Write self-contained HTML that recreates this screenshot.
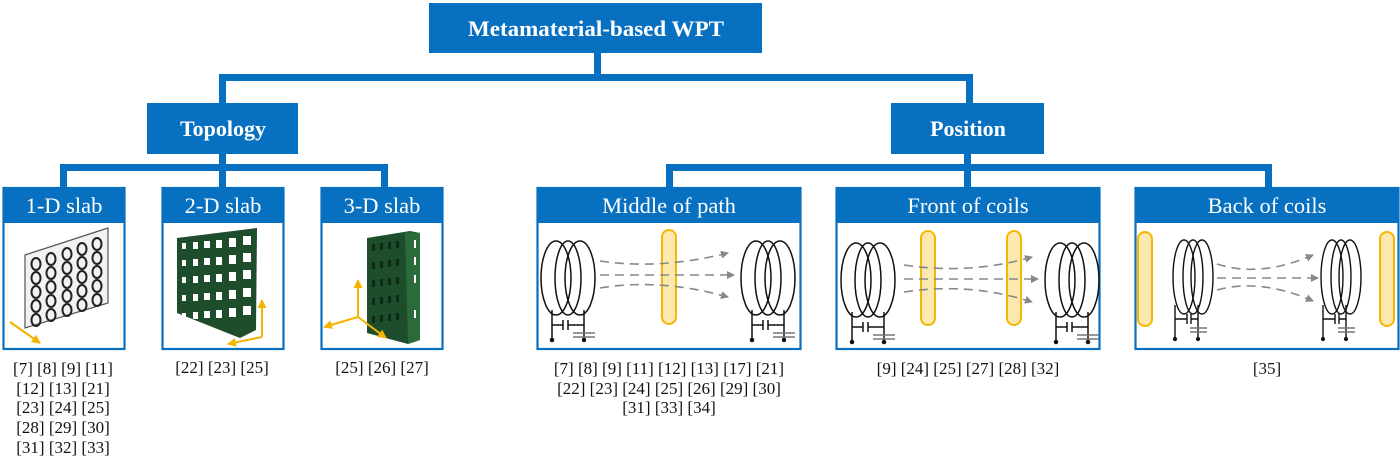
<!DOCTYPE html>
<html><head><meta charset="utf-8"><style>
html,body{margin:0;padding:0;background:#fff;width:1400px;height:460px;overflow:hidden}
svg{display:block}
.ref{font-family:"Liberation Serif",serif;font-size:17px;fill:#111;text-anchor:middle}
.hd{font-family:"Liberation Serif",serif;font-size:22.5px;fill:#fff;text-anchor:middle}
.bd{font-family:"Liberation Serif",serif;font-size:22px;font-weight:bold;fill:#fff;text-anchor:middle}
</style></head><body>
<svg width="1400" height="460" viewBox="0 0 1400 460" xmlns="http://www.w3.org/2000/svg">
<defs>
<g id="coil" fill="none" stroke="#111" stroke-width="1.5">
  <ellipse cx="-12" cy="0" rx="15" ry="37"/>
  <ellipse cx="0" cy="0" rx="13" ry="37"/>
  <ellipse cx="12" cy="0" rx="15" ry="37"/>
  <path d="M-16 32 V62 M16 32 V62 M-16 47 H-5 M-5 42 V52 M0 42 V52 M0 47 H16"/>
  <path d="M5 55 H27 M5 59 H27" stroke="#777"/>
  <circle cx="-16" cy="62" r="1.5" fill="#111"/><circle cx="16" cy="62" r="1.5" fill="#111"/>
</g>
<g id="coilS" fill="none" stroke="#111" stroke-width="1.4">
  <ellipse cx="-9" cy="0" rx="11" ry="37"/>
  <ellipse cx="0" cy="0" rx="10" ry="37"/>
  <ellipse cx="9" cy="0" rx="11" ry="37"/>
  <path d="M-18 28 V62 M5 28 V62 M-18 42 H-6 M-6 37 V47 M-2 37 V47 M-2 42 H5"/>
  <path d="M-3 51 H14 M-3 55 H14" stroke="#777"/>
  <circle cx="-18" cy="62" r="1.4" fill="#111"/><circle cx="5" cy="62" r="1.4" fill="#111"/>
</g>
<g id="rod"><rect x="-7" y="0" width="14" height="94" rx="7" fill="#fde9b0" stroke="#f5b800" stroke-width="2"/></g>
<marker id="ah" markerWidth="8" markerHeight="8" refX="7" refY="4" orient="auto" markerUnits="userSpaceOnUse"><path d="M0 0 L8 4 L0 8 Z" fill="#888"/></marker>
<marker id="ay" markerWidth="9" markerHeight="9" refX="8" refY="4.5" orient="auto" markerUnits="userSpaceOnUse"><path d="M0 0 L9 4.5 L0 9 Z" fill="#f5b400"/></marker>
</defs>

<g fill="#0870c0">
<rect x="594" y="52" width="7" height="26"/>
<rect x="219" y="74" width="754" height="7" rx="2"/>
<rect x="219" y="74" width="7" height="30"/>
<rect x="966" y="74" width="7" height="30"/>
<rect x="219" y="153" width="7" height="36"/>
<rect x="60" y="164" width="328" height="7" rx="2"/>
<rect x="60" y="164" width="7" height="25"/>
<rect x="381" y="164" width="7" height="25"/>
<rect x="964" y="153" width="7" height="36"/>
<rect x="666" y="164" width="606" height="7" rx="2"/>
<rect x="666" y="164" width="7" height="25"/>
<rect x="1265" y="164" width="7" height="25"/>
</g>

<rect x="429" y="3" width="333" height="50" fill="#0870c0"/>
<text class="bd" x="596" y="36" textLength="256" lengthAdjust="spacingAndGlyphs">Metamaterial-based WPT</text>
<rect x="147" y="103" width="151" height="51" fill="#0870c0"/>
<text class="bd" x="223" y="136">Topology</text>
<rect x="891" y="103" width="153" height="51" fill="#0870c0"/>
<text class="bd" x="968" y="136">Position</text>

<g fill="#fff" stroke="#0870c0" stroke-width="2.2">
<rect x="3.5" y="188" width="121" height="161"/>
<rect x="162.5" y="188" width="121" height="161"/>
<rect x="321.5" y="188" width="121" height="161"/>
<rect x="537.5" y="188" width="263" height="161"/>
<rect x="836.5" y="188" width="263" height="161"/>
<rect x="1135.5" y="188" width="263" height="161"/>
</g>
<g fill="#0870c0">
<rect x="2.5" y="187" width="123" height="36"/>
<rect x="161.5" y="187" width="123" height="36"/>
<rect x="320.5" y="187" width="123" height="36"/>
<rect x="536.5" y="187" width="265" height="36"/>
<rect x="835.5" y="187" width="265" height="36"/>
<rect x="1134.5" y="187" width="265" height="36"/>
</g>
<text class="hd" x="64" y="213">1-D slab</text>
<text class="hd" x="223" y="213">2-D slab</text>
<text class="hd" x="382" y="213">3-D slab</text>
<text class="hd" x="669" y="213">Middle of path</text>
<text class="hd" x="968" y="213">Front of coils</text>
<text class="hd" x="1267" y="213">Back of coils</text>

<polygon points="25,255 108,228 108,303 25,328" fill="#f2f2f2" stroke="#555" stroke-width="1.2"/>
<g fill="none" stroke="#222" stroke-width="2">
<g id="row1">
<ellipse cx="36" cy="264" rx="4.5" ry="6"/><ellipse cx="51" cy="259" rx="4.5" ry="6"/><ellipse cx="67" cy="254" rx="4.5" ry="6"/><ellipse cx="82" cy="249" rx="4.5" ry="6"/><ellipse cx="97" cy="244" rx="4.5" ry="6"/>
</g>
<use href="#row1" y="14"/><use href="#row1" y="28"/><use href="#row1" y="42"/><use href="#row1" y="56"/>
</g>
<line x1="10" y1="322" x2="40" y2="343" stroke="#f5b400" stroke-width="2" marker-end="url(#ay)"/>

<polygon points="177,238 257,228 256,330 240,338 177,313" fill="#1d4d2a"/>
<g fill="#fff">
<g id="wr">
<rect x="182" y="243" width="4" height="6"/><rect x="193" y="242" width="5" height="7"/><rect x="204" y="241" width="6" height="7"/><rect x="216" y="240" width="6" height="8"/><rect x="229" y="238" width="7" height="9"/><rect x="243" y="236" width="8" height="9"/>
</g>
<use href="#wr" y="17"/><use href="#wr" y="34"/><use href="#wr" y="52"/><use href="#wr" y="70"/>
</g>
<line x1="262" y1="337" x2="262" y2="300" stroke="#f5b400" stroke-width="2" marker-end="url(#ay)"/>
<line x1="262" y1="337" x2="228" y2="344" stroke="#f5b400" stroke-width="2" marker-end="url(#ay)"/>

<polygon points="367,238 410,231 420,233 420,340 408,344 367,333" fill="#1d4d2a"/>
<polygon points="405,232 420,233 420,340 408,344" fill="#2b6a3a"/>
<g fill="#0d2a15">
<g id="w3"><rect x="372" y="244" width="3" height="7"/><rect x="380" y="243" width="3" height="7"/><rect x="388" y="242" width="3" height="7"/><rect x="396" y="241" width="3" height="7"/></g>
<use href="#w3" y="18"/><use href="#w3" y="36"/><use href="#w3" y="54"/><use href="#w3" y="72"/>
</g>
<g fill="#fff"><rect x="414" y="240" width="2" height="8"/><rect x="414" y="257" width="2" height="8"/><rect x="414" y="275" width="2" height="8"/><rect x="414" y="310" width="2" height="8"/></g>
<g stroke="#f5b400" stroke-width="2">
<line x1="358" y1="317" x2="358" y2="280" marker-end="url(#ay)"/>
<line x1="358" y1="317" x2="324" y2="327" marker-end="url(#ay)"/>
<line x1="358" y1="317" x2="386" y2="338" marker-end="url(#ay)"/>
</g>

<use href="#coil" x="568" y="278"/>
<use href="#rod" x="669" y="230"/>
<use href="#coil" x="768" y="278"/>
<g fill="none" stroke="#888" stroke-width="1.6" stroke-dasharray="9,6">
<path d="M600 261 Q660 270 728 253" marker-end="url(#ah)"/>
<path d="M600 275 H734" marker-end="url(#ah)"/>
<path d="M600 288 Q660 278 728 297" marker-end="url(#ah)"/>
</g>

<use href="#coil" x="868" y="280"/>
<use href="#rod" x="928" y="231"/>
<use href="#rod" x="1014" y="231"/>
<use href="#coil" x="1072" y="280"/>
<g fill="none" stroke="#888" stroke-width="1.6" stroke-dasharray="9,6">
<path d="M904 265 Q970 275 1032 257" marker-end="url(#ah)"/>
<path d="M904 279 H1038" marker-end="url(#ah)"/>
<path d="M904 292 Q970 282 1032 302" marker-end="url(#ah)"/>
</g>

<use href="#rod" x="1145" y="232"/>
<use href="#coilS" x="1193" y="277"/>
<use href="#coilS" x="1341" y="277"/>
<use href="#rod" x="1387" y="232"/>
<g fill="none" stroke="#888" stroke-width="1.6" stroke-dasharray="9,6">
<path d="M1217 264 Q1260 278 1313 255" marker-end="url(#ah)"/>
<path d="M1217 278 H1318" marker-end="url(#ah)"/>
<path d="M1217 290 Q1260 278 1313 301" marker-end="url(#ah)"/>
</g>

<g class="ref">
<text x="63" y="374">[7] [8] [9] [11]</text>
<text x="63" y="394">[12] [13] [21]</text>
<text x="63" y="413">[23] [24] [25]</text>
<text x="63" y="433">[28] [29] [30]</text>
<text x="63" y="453">[31] [32] [33]</text>
<text x="222" y="373">[22] [23] [25]</text>
<text x="382" y="373">[25] [26] [27]</text>
<text x="669" y="374">[7] [8] [9] [11] [12] [13] [17] [21]</text>
<text x="669" y="394">[22] [23] [24] [25] [26] [29] [30]</text>
<text x="669" y="413">[31] [33] [34]</text>
<text x="968" y="374">[9] [24] [25] [27] [28] [32]</text>
<text x="1267" y="374">[35]</text>
</g>
</svg>
</body></html>
